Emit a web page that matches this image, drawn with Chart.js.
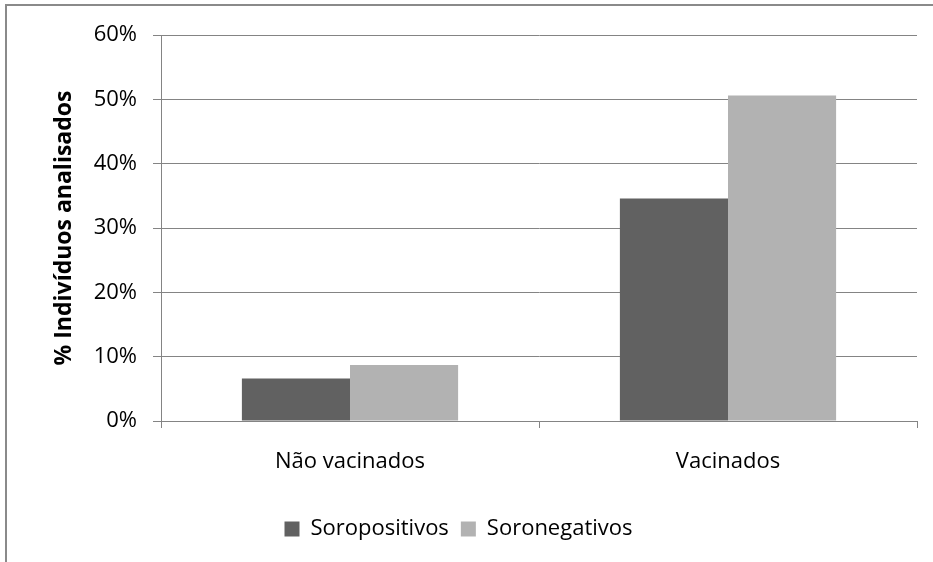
<!DOCTYPE html>
<html>
<head>
<meta charset="utf-8">
<script src="https://cdn.jsdelivr.net/npm/chart.js@4.4.1/dist/chart.umd.min.js"></script>
<style>
  html, body { margin: 0; padding: 0; background: #fff; }
  #wrap { position: relative; width: 933px; height: 562px; }
  #frame { position: absolute; left: 5px; top: 4px; width: 940px; height: 600px;
           border-top: 2px solid #8a8a8a; border-left: 2px solid #8a8a8a; pointer-events: none; }
</style>
</head>
<body>
<div id="wrap">
  <canvas id="chart" width="933" height="562"></canvas>
  <div id="frame"></div>
</div>
<script>
// data
const categories = ['Não vacinados', 'Vacinados'];
const soropositivos = [6.6, 34.6];
const soronegativos = [8.7, 50.6];
const yTicks = [0, 10, 20, 30, 40, 50, 60];

const font = "'Open Sans', sans-serif";
const gridColor = '#848484';

const ctx = document.getElementById('chart').getContext('2d');
new Chart(ctx, {
  type: 'bar',
  data: {
    labels: categories,
    datasets: [
      { label: 'Soropositivos', data: soropositivos, backgroundColor: '#616161', borderWidth: 0 },
      { label: 'Soronegativos', data: soronegativos, backgroundColor: '#b2b2b2', borderWidth: 0 }
    ]
  },
  options: {
    responsive: false,
    animation: false,
    layout: { padding: { top: 35, right: 16, left: 0, bottom: 12 } },
    datasets: { bar: { categoryPercentage: 0.572, barPercentage: 1.0 } },
    plugins: {
      tooltip: { enabled: false },
      legend: {
        position: 'bottom',
        labels: {
          font: { family: font, size: 22 },
          color: '#000',
          boxWidth: 15,
          boxHeight: 15,
          padding: 12
        }
      }
    },
    scales: {
      x: {
        grid: { drawOnChartArea: false, drawTicks: true, tickLength: 7, color: gridColor, offset: true },
        border: { color: gridColor, width: 1 },
        ticks: { font: { family: font, size: 22 }, color: '#000', padding: 21 },
        afterFit: (s) => { s.height = 85; }
      },
      y: {
        min: 0, max: 60,
        afterBuildTicks: (s) => { s.ticks = yTicks.map(v => ({ value: v })); },
        grid: { color: gridColor, tickLength: 8, lineWidth: 1 },
        border: { color: gridColor, width: 1 },
        ticks: {
          font: { family: font, size: 22 }, color: '#000', padding: 16,
          callback: (v) => v + '%'
        },
        title: {
          display: true,
          text: '% Indivíduos analisados',
          font: { family: font, size: 23, weight: 'bold' },
          color: '#000',
          padding: { top: 51, bottom: 0 }
        },
        afterFit: (s) => { s.width = 161; }
      }
    }
  }
});
</script>
</body>
</html>
